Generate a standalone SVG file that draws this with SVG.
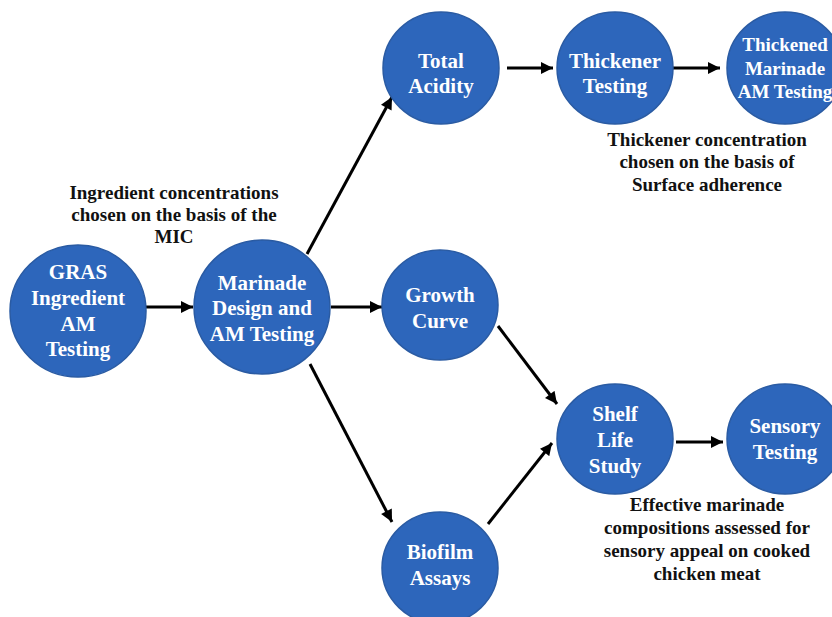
<svg xmlns="http://www.w3.org/2000/svg" width="832" height="617" viewBox="0 0 832 617">
<style>
.n{fill:#2d66bb;stroke:#2a5ba3;stroke-width:1.5}
.t{font-family:"Liberation Serif","Times New Roman",serif;font-weight:bold;font-size:21px;fill:#fff;text-anchor:middle}
.a{font-family:"Liberation Serif","Times New Roman",serif;font-weight:bold;font-size:19px;fill:#111;text-anchor:middle}
.c{stroke:#000;stroke-width:3;fill:none;marker-end:url(#ah)}
</style>
<defs>
<marker id="ah" viewBox="0 0 10 10" refX="10" refY="5" markerWidth="4.5" markerHeight="4" orient="auto" markerUnits="strokeWidth">
<path d="M0,0L10,5L0,10z" fill="#000"/>
</marker>
</defs>
<rect width="832" height="617" fill="#fff"/>
<g id="connectors">
<line class="c" x1="146" y1="307" x2="193" y2="307"/>
<line class="c" x1="331" y1="307" x2="382" y2="307"/>
<line class="c" x1="307" y1="254" x2="392" y2="97"/>
<line class="c" x1="310" y1="364" x2="392" y2="522"/>
<line class="c" x1="507" y1="68" x2="553" y2="68"/>
<line class="c" x1="673" y1="68" x2="720" y2="68"/>
<line class="c" x1="498" y1="326" x2="557" y2="404"/>
<line class="c" x1="488" y1="524" x2="552" y2="443"/>
<line class="c" x1="676" y1="442" x2="723" y2="442"/>
</g>
<g id="gras">
<ellipse class="n" cx="78" cy="311" rx="68" ry="66"/>
<text class="t" x="78" y="279">GRAS</text>
<text class="t" x="78" y="305">Ingredient</text>
<text class="t" x="78" y="331">AM</text>
<text class="t" x="78" y="356">Testing</text>
</g>
<g id="marinade">
<ellipse class="n" cx="262" cy="307" rx="68" ry="67"/>
<text class="t" x="262" y="290">Marinade</text>
<text class="t" x="262" y="315">Design and</text>
<text class="t" x="262" y="341">AM Testing</text>
</g>
<g id="total-acidity">
<ellipse class="n" cx="441" cy="68" rx="58" ry="56"/>
<text class="t" x="441" y="68">Total</text>
<text class="t" x="441" y="93">Acidity</text>
</g>
<g id="thickener-testing">
<ellipse class="n" cx="615" cy="68" rx="58" ry="56"/>
<text class="t" x="615" y="68">Thickener</text>
<text class="t" x="615" y="93">Testing</text>
</g>
<g id="thickened-marinade">
<ellipse class="n" cx="785" cy="68" rx="58" ry="56"/>
<text class="t" x="785" y="51" style="font-size:19px">Thickened</text>
<text class="t" x="785" y="75" style="font-size:19px">Marinade</text>
<text class="t" x="785" y="98" style="font-size:19px">AM Testing</text>
</g>
<g id="growth-curve">
<ellipse class="n" cx="440" cy="305" rx="58" ry="55"/>
<text class="t" x="440" y="302">Growth</text>
<text class="t" x="440" y="328">Curve</text>
</g>
<g id="shelf-life">
<ellipse class="n" cx="615" cy="439" rx="58" ry="55"/>
<text class="t" x="615" y="421">Shelf</text>
<text class="t" x="615" y="447">Life</text>
<text class="t" x="615" y="473">Study</text>
</g>
<g id="sensory">
<ellipse class="n" cx="785" cy="439" rx="58" ry="55"/>
<text class="t" x="785" y="433">Sensory</text>
<text class="t" x="785" y="459">Testing</text>
</g>
<g id="biofilm">
<ellipse class="n" cx="440" cy="568" rx="58" ry="56"/>
<text class="t" x="440" y="559">Biofilm</text>
<text class="t" x="440" y="585">Assays</text>
</g>
<g id="labels">
<text class="a" x="174" y="199">Ingredient concentrations</text>
<text class="a" x="174" y="221">chosen on the basis of the</text>
<text class="a" x="174" y="243">MIC</text>
<text class="a" x="707" y="146">Thickener concentration</text>
<text class="a" x="707" y="168">chosen on the basis of</text>
<text class="a" x="707" y="191">Surface adherence</text>
<text class="a" x="707" y="511">Effective marinade</text>
<text class="a" x="707" y="534">compositions assessed for</text>
<text class="a" x="707" y="557">sensory appeal on cooked</text>
<text class="a" x="707" y="580">chicken meat</text>
</g>
</svg>
